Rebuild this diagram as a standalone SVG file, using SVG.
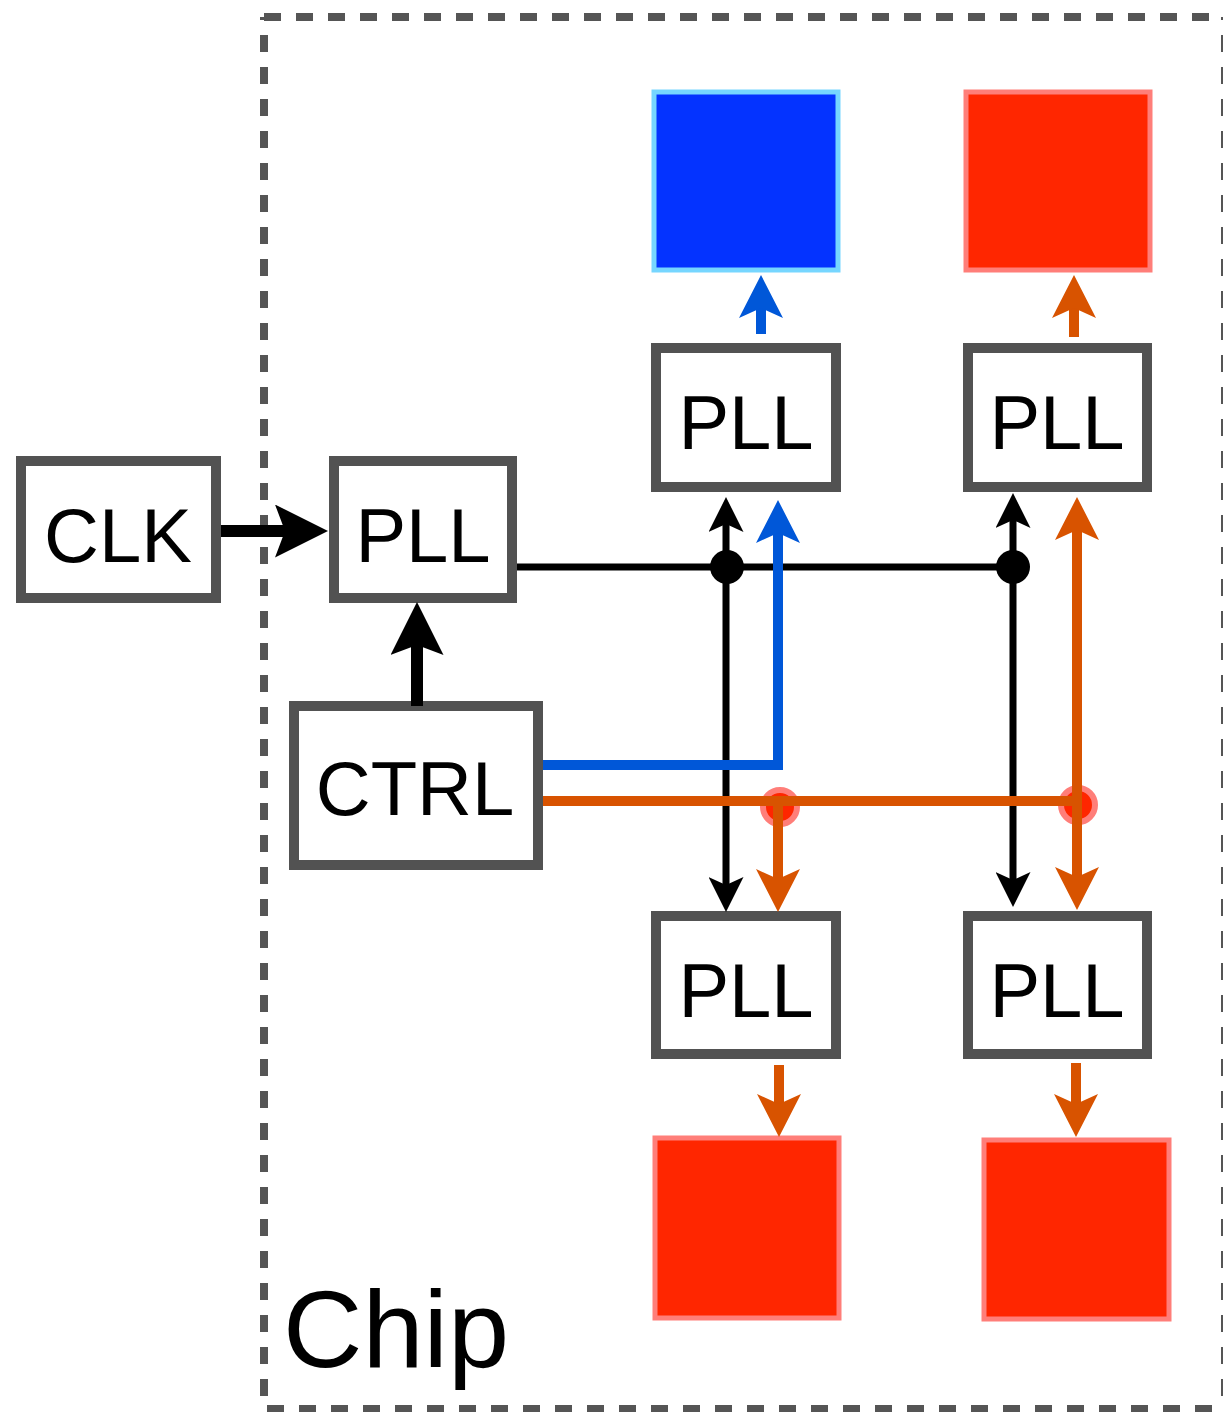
<svg xmlns="http://www.w3.org/2000/svg" width="1223" height="1412" viewBox="0 0 1223 1412">
  <style>
    .box { fill: #ffffff; stroke: #525252; stroke-width: 10; }
    .lbl { font-family: "Liberation Sans", Arial, Helvetica, sans-serif; font-size: 76px; fill: #000000; text-anchor: middle; }
    .border { stroke: #555555; stroke-width: 8; stroke-dasharray: 17 15; fill: none; }
    .blueblk { fill: #0433FF; stroke: #76D6FF; stroke-width: 5; }
    .redblk { fill: #FF2600; stroke: #FF7E79; stroke-width: 5; }
    .thick { stroke: #000000; stroke-width: 12; fill: none; }
    .thin { stroke: #000000; stroke-width: 7; fill: none; }
    .blue { stroke: #0057D8; stroke-width: 10; fill: none; }
    .orange { stroke: #D85300; stroke-width: 10; fill: none; }
  </style>
  <defs>
    <marker id="m-thick" markerUnits="userSpaceOnUse" markerWidth="53" markerHeight="53" viewBox="0 0 53 53" refX="10" refY="26.5" orient="auto">
      <path d="M0,0 L53,26.5 L0,53 L10,26.5 Z" fill="#000000"/>
    </marker>
    <marker id="m-thin" markerUnits="userSpaceOnUse" markerWidth="35" markerHeight="35" viewBox="0 0 35 35" refX="8" refY="17.5" orient="auto-start-reverse">
      <path d="M0,0 L35,17.5 L0,35 L8,17.5 Z" fill="#000000"/>
    </marker>
    <marker id="m-blue" markerUnits="userSpaceOnUse" markerWidth="43" markerHeight="44" viewBox="0 0 43 44" refX="10" refY="22" orient="auto-start-reverse">
      <path d="M0,0 L43,22 L0,44 L10,22 Z" fill="#0057D8"/>
    </marker>
    <marker id="m-orange" markerUnits="userSpaceOnUse" markerWidth="43" markerHeight="44" viewBox="0 0 43 44" refX="10" refY="22" orient="auto-start-reverse">
      <path d="M0,0 L43,22 L0,44 L10,22 Z" fill="#D85300"/>
    </marker>
  </defs>

  <g id="chip">
    <line class="border" x1="264" y1="17" x2="1225" y2="17"/>
    <line class="border" x1="264" y1="17" x2="264" y2="1409" stroke-dashoffset="14"/>
    <line class="border" x1="264" y1="1409" x2="1225" y2="1409" stroke-dashoffset="-3"/>
    <line class="border" x1="1225" y1="17" x2="1225" y2="1409" stroke-dashoffset="14"/>
    <text class="lbl" x="283" y="1367" style="font-size:110px;text-anchor:start">Chip</text>
  </g>

  <g id="clk">
    <rect class="box" x="21" y="461" width="195" height="137"/>
    <text class="lbl" x="118" y="562">CLK</text>
  </g>
  <g id="pll-main">
    <rect class="box" x="334" y="461" width="178" height="137"/>
    <text class="lbl" x="423" y="562">PLL</text>
  </g>
  <g id="ctrl">
    <rect class="box" x="294" y="706" width="244" height="159"/>
    <text class="lbl" x="415" y="815">CTRL</text>
  </g>
  <g id="pll-top-left">
    <rect class="box" x="656" y="348" width="180" height="139"/>
    <text class="lbl" x="746" y="449">PLL</text>
  </g>
  <g id="pll-top-right">
    <rect class="box" x="968" y="348" width="179" height="139"/>
    <text class="lbl" x="1057" y="449">PLL</text>
  </g>
  <g id="pll-bottom-left">
    <rect class="box" x="656" y="916" width="180" height="138"/>
    <text class="lbl" x="746" y="1017">PLL</text>
  </g>
  <g id="pll-bottom-right">
    <rect class="box" x="968" y="916" width="179" height="138"/>
    <text class="lbl" x="1057" y="1017">PLL</text>
  </g>
  <g id="block-top-blue">
    <rect class="blueblk" x="654" y="92" width="184" height="178"/>
  </g>
  <g id="block-top-red">
    <rect class="redblk" x="966" y="92" width="184" height="178"/>
  </g>
  <g id="block-bottom-left">
    <rect class="redblk" x="655" y="1138" width="184" height="180"/>
  </g>
  <g id="block-bottom-right">
    <rect class="redblk" x="984" y="1140" width="185" height="179"/>
  </g>

  <g id="connectors">
    <line class="thick" x1="221" y1="531" x2="285" y2="531" marker-end="url(#m-thick)"/>
    <line class="thick" x1="417" y1="706" x2="417" y2="645" marker-end="url(#m-thick)"/>
    <line class="thin" x1="517" y1="567" x2="1013" y2="567"/>
    <line class="thin" x1="726" y1="524" x2="726" y2="885" marker-start="url(#m-thin)" marker-end="url(#m-thin)"/>
    <line class="thin" x1="1013" y1="520" x2="1013" y2="880" marker-start="url(#m-thin)" marker-end="url(#m-thin)"/>
    <circle cx="727" cy="567" r="17" fill="#000000"/>
    <circle cx="1013" cy="567" r="17" fill="#000000"/>
    <path class="blue" d="M543,765 H778 V533" marker-end="url(#m-blue)"/>
    <circle cx="780" cy="807" r="17" fill="#FF2600" stroke="#FF7E79" stroke-width="6"/>
    <circle cx="1078" cy="805" r="17" fill="#FF2600" stroke="#FF7E79" stroke-width="6"/>
    <path class="orange" d="M543,801 H1077"/>
    <line class="orange" x1="778" y1="801" x2="778" y2="879" marker-end="url(#m-orange)"/>
    <line class="orange" x1="1077" y1="530" x2="1077" y2="877" marker-start="url(#m-orange)" marker-end="url(#m-orange)"/>
    <line class="blue" x1="761" y1="334" x2="761" y2="308" marker-end="url(#m-blue)"/>
    <line class="orange" x1="1074" y1="337" x2="1074" y2="308" marker-end="url(#m-orange)"/>
    <line class="orange" x1="779" y1="1065" x2="779" y2="1104" marker-end="url(#m-orange)"/>
    <line class="orange" x1="1076" y1="1063" x2="1076" y2="1104" marker-end="url(#m-orange)"/>
  </g>
</svg>
